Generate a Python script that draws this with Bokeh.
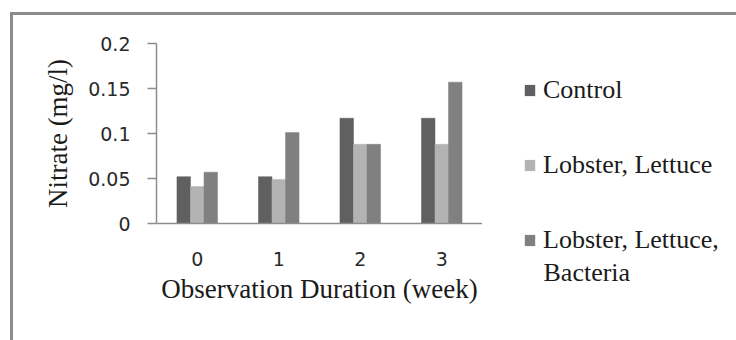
from bokeh.plotting import figure
from bokeh.layouts import row
from bokeh.models import (ColumnDataSource, FactorRange, Range1d, FixedTicker,
                          Legend, LegendItem, Label)
from bokeh.transform import dodge
from bokeh.embed import file_html
from bokeh.resources import INLINE

# ---- data ----
weeks = ["0", "1", "2", "3"]
control = [0.052, 0.052, 0.117, 0.117]
lobster_lettuce = [0.041, 0.049, 0.088, 0.088]
lobster_lettuce_bacteria = [0.057, 0.101, 0.088, 0.157]
series_names = ["Control", "Lobster, Lettuce", "Lobster, Lettuce,", "Bacteria"]
y_ticks = [0, 0.05, 0.1, 0.15, 0.2]
y_tick_labels = ["0", "0.05", "0.1", "0.15", "0.2"]

colors = ["#606060", "#b3b3b3", "#808080"]

serif = "Liberation Serif"
sans = "DejaVu Sans"
axis_gray = "#8c8c8c"
text_col = "#1a1a1a"
g = "linear-gradient(#8c8c8c, #8c8c8c)"

src = ColumnDataSource(dict(weeks=weeks, control=control,
                            ll=lobster_lettuce, llb=lobster_lettuce_bacteria))

# ---------------- main chart ----------------
fig = figure(width=482, height=340, x_range=FactorRange(*weeks),
             y_range=Range1d(0, 0.2), output_backend="svg",
             toolbar_location=None, min_border_left=156, min_border_right=0,
             min_border_top=43, min_border_bottom=117)
fig.frame_align = False
fig.outline_line_color = None
fig.xgrid.grid_line_color = None
fig.ygrid.grid_line_color = None
fig.background_fill_color = "white"
fig.border_fill_alpha = 0
fig.styles = {"background": f"{g} 10px 12px / 3px 100% no-repeat, "
                            f"{g} 10px 12px / 100% 3px no-repeat, white"}

bw = 0.166
r1 = fig.vbar(x=dodge("weeks", -bw, range=fig.x_range), top="control", width=bw,
              source=src, fill_color=colors[0], line_color=colors[0], line_width=0.5)
r2 = fig.vbar(x=dodge("weeks", 0, range=fig.x_range), top="ll", width=bw,
              source=src, fill_color=colors[1], line_color=colors[1], line_width=0.5)
r3 = fig.vbar(x=dodge("weeks", bw, range=fig.x_range), top="llb", width=bw,
              source=src, fill_color=colors[2], line_color=colors[2], line_width=0.5)

ya = fig.yaxis[0]
ya.ticker = FixedTicker(ticks=y_ticks)
ya.major_label_overrides = {t: l for t, l in zip(y_ticks, y_tick_labels)}
ya.minor_tick_line_color = None
ya.major_tick_in = 0
ya.major_tick_out = 9
ya.major_tick_line_color = axis_gray
ya.axis_line_color = axis_gray
ya.axis_line_width = 1.5
ya.major_tick_line_width = 1.5
ya.major_label_text_font = sans
ya.major_label_text_font_size = "19px"
ya.major_label_text_color = "#2a2a2a"
ya.major_label_standoff = 17
ya.axis_label = "Nitrate (mg/l)"
ya.axis_label_text_font = serif
ya.axis_label_text_font_size = "27px"
ya.axis_label_text_font_style = "normal"
ya.axis_label_text_color = text_col
ya.axis_label_standoff = 12

xa = fig.xaxis[0]
xa.major_tick_line_color = None
xa.major_tick_out = 0
xa.major_tick_in = 0
xa.axis_line_color = axis_gray
xa.axis_line_width = 1.5
xa.major_label_text_font = sans
xa.major_label_text_font_size = "19px"
xa.major_label_text_color = "#2a2a2a"
xa.major_label_standoff = 28
xa.axis_label = "Observation Duration (week)"
xa.axis_label_text_font = serif
xa.axis_label_text_font_size = "27px"
xa.axis_label_text_font_style = "normal"
xa.axis_label_text_color = text_col
xa.axis_label_standoff = 5

# ---------------- legend panel ----------------
leg = figure(width=254, height=340, x_range=Range1d(0, 254), y_range=Range1d(0, 340),
             output_backend="svg", toolbar_location=None,
             x_axis_type=None, y_axis_type=None,
             min_border_left=0, min_border_right=0, min_border_top=0,
             min_border_bottom=0)
leg.frame_align = False
leg.outline_line_color = None
leg.xgrid.grid_line_color = None
leg.ygrid.grid_line_color = None
leg.background_fill_alpha = 0
leg.border_fill_alpha = 0
leg.styles = {"background": f"{g} 0px 12px / 100% 3px no-repeat, white"}

# zero-size helper glyphs: they only provide the legend swatches
swatch = ColumnDataSource(dict(x=[0], top=[0]))
l1 = leg.vbar(x="x", top="top", width=0, source=swatch,
              fill_color=colors[0], line_color=None)
l2 = leg.vbar(x="x", top="top", width=0, source=swatch,
              fill_color=colors[1], line_color=None)
l3 = leg.vbar(x="x", top="top", width=0, source=swatch,
              fill_color=colors[2], line_color=None)

legend = Legend(items=[LegendItem(label=series_names[0], renderers=[l1]),
                       LegendItem(label=series_names[1], renderers=[l2]),
                       LegendItem(label=series_names[2], renderers=[l3])],
                location=(41, 85))
legend.border_line_color = None
legend.background_fill_alpha = 0
legend.padding = 0
legend.margin = 0
legend.glyph_width = 13
legend.glyph_height = 14
legend.label_standoff = 7
legend.label_height = 30
legend.spacing = 45
legend.label_text_font = serif
legend.label_text_font_size = "26px"
legend.label_text_color = text_col
leg.add_layout(legend, "center")

leg.add_layout(Label(x=61, y=68, text=series_names[3], text_font=serif,
                     text_font_size="26px", text_color=text_col,
                     text_baseline="middle"))

p = row(fig, leg, spacing=0)
open("out.html", "w").write(file_html(p, INLINE))
